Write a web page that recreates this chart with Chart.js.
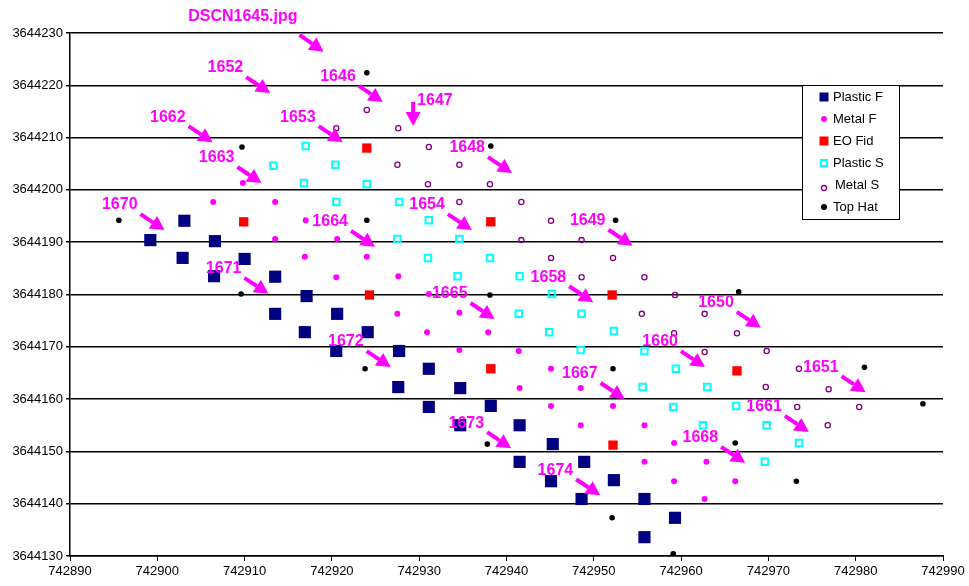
<!DOCTYPE html>
<html>
<head>
<meta charset="utf-8">
<title>Fiducial survey</title>
<script src="https://cdn.jsdelivr.net/npm/chart.js@4.4.1/dist/chart.umd.min.js"></script>
<style>
    html, body { margin: 0; padding: 0; background: #fff; }
    #wrap { width: 969px; height: 586px; }
</style>
</head>
<body>
<div id="wrap"><canvas id="survey" width="969" height="586"></canvas></div>
<script>
// ── Axis ticks ────────────────────────────────────────────
const xTicks = [742890, 742900, 742910, 742920, 742930, 742940, 742950, 742960, 742970, 742980, 742990];
const yTicks = [3644130, 3644140, 3644150, 3644160, 3644170, 3644180, 3644190, 3644200, 3644210, 3644220, 3644230];

// ── Series: [easting, northing] ───────────────────────────
const plasticF = [
    [742899.2, 3644190.4], [742903.1, 3644194.1], [742906.6, 3644190.2], [742902.9, 3644187.0],
    [742910.0, 3644186.8], [742906.5, 3644183.5], [742913.5, 3644183.4], [742917.1, 3644179.7],
    [742913.5, 3644176.3], [742920.6, 3644176.3], [742916.9, 3644172.8], [742924.1, 3644172.8],
    [742920.5, 3644169.2], [742927.7, 3644169.2], [742931.1, 3644165.8], [742927.6, 3644162.3],
    [742934.7, 3644162.1], [742931.1, 3644158.5], [742938.2, 3644158.7], [742934.7, 3644155.0],
    [742941.5, 3644155.0], [742945.3, 3644151.4], [742941.5, 3644148.0], [742948.9, 3644148.0],
    [742945.1, 3644144.3], [742952.3, 3644144.5], [742948.6, 3644140.9], [742955.8, 3644140.9],
    [742959.3, 3644137.3], [742955.8, 3644133.6]
];
const metalF = [
    [742909.8, 3644201.3], [742906.4, 3644197.7], [742913.5, 3644197.7], [742917.0, 3644194.2],
    [742913.5, 3644190.6], [742920.6, 3644190.6], [742916.9, 3644187.2], [742924.0, 3644187.2],
    [742920.5, 3644183.3], [742927.6, 3644183.5], [742931.1, 3644180.1], [742927.5, 3644176.3],
    [742934.6, 3644176.5], [742930.9, 3644172.8], [742937.9, 3644172.8], [742934.6, 3644169.4],
    [742941.4, 3644169.2], [742945.1, 3644165.8], [742941.5, 3644162.1], [742948.5, 3644162.1],
    [742945.1, 3644158.7], [742952.2, 3644158.7], [742948.5, 3644155.0], [742955.8, 3644155.0],
    [742959.2, 3644151.6], [742955.8, 3644148.0], [742962.9, 3644148.0], [742959.2, 3644144.3],
    [742966.2, 3644144.3], [742962.7, 3644140.9]
];
const eoFid = [
    [742924.0, 3644208.0], [742909.9, 3644193.9], [742938.2, 3644193.9], [742924.3, 3644179.9],
    [742952.1, 3644179.9], [742938.2, 3644165.8], [742966.4, 3644165.4], [742952.2, 3644151.2]
];
const plasticS = [
    [742917.0, 3644208.4], [742913.3, 3644204.6], [742920.4, 3644204.8], [742916.8, 3644201.3],
    [742924.0, 3644201.1], [742920.5, 3644197.7], [742927.7, 3644197.7], [742931.1, 3644194.2],
    [742927.5, 3644190.6], [742934.6, 3644190.6], [742931.0, 3644187.0], [742938.1, 3644187.0],
    [742934.4, 3644183.5], [742941.5, 3644183.5], [742945.2, 3644180.1], [742941.4, 3644176.3],
    [742948.6, 3644176.3], [742944.9, 3644172.8], [742952.3, 3644173.0], [742948.5, 3644169.4],
    [742955.8, 3644169.2], [742959.4, 3644165.8], [742955.6, 3644162.3], [742963.0, 3644162.3],
    [742959.1, 3644158.5], [742966.3, 3644158.7], [742962.5, 3644155.0], [742969.8, 3644155.0],
    [742973.5, 3644151.6], [742969.6, 3644148.0]
];
const metalS = [
    [742924.0, 3644215.3], [742920.5, 3644211.8], [742927.6, 3644211.8], [742931.1, 3644208.2],
    [742927.5, 3644204.8], [742934.6, 3644204.8], [742931.0, 3644201.1], [742938.1, 3644201.1],
    [742934.6, 3644197.7], [742941.7, 3644197.7], [742945.1, 3644194.1], [742941.7, 3644190.4],
    [742948.6, 3644190.4], [742945.1, 3644187.0], [742952.2, 3644187.0], [742948.6, 3644183.3],
    [742955.8, 3644183.3], [742959.3, 3644179.9], [742955.5, 3644176.3], [742962.7, 3644176.3],
    [742959.2, 3644172.6], [742966.4, 3644172.6], [742962.7, 3644169.0], [742969.8, 3644169.2],
    [742973.5, 3644165.8], [742969.7, 3644162.3], [742976.9, 3644161.9], [742973.3, 3644158.5],
    [742980.4, 3644158.5], [742976.8, 3644155.0]
];
const topHat = [
    [742924.0, 3644222.4], [742909.7, 3644208.2], [742938.2, 3644208.4], [742895.6, 3644194.2],
    [742924.0, 3644194.2], [742952.5, 3644194.2], [742909.6, 3644180.1], [742938.1, 3644179.9],
    [742966.6, 3644180.5], [742923.8, 3644165.8], [742952.2, 3644165.8], [742981.0, 3644166.1],
    [742937.8, 3644151.4], [742966.2, 3644151.6], [742987.7, 3644159.1], [742973.2, 3644144.3],
    [742952.1, 3644137.3], [742959.1, 3644130.4]
];

// ── Photo callouts: [text, easting, northing, arrow] ──────
const callouts = [
    ['DSCN1645.jpg', 742909.8, 3644233.1, 'far'],
    ['1652', 742907.8, 3644223.3, 'se'], ['1646', 742920.7, 3644221.6, 'se'],
    ['1647', 742931.8, 3644217.0, 'down'],
    ['1662', 742901.2, 3644213.9, 'se'], ['1653', 742916.1, 3644213.9, 'se'],
    ['1648', 742935.5, 3644208.0, 'se'], ['1663', 742906.8, 3644206.1, 'se'],
    ['1670', 742895.7, 3644197.1, 'se'], ['1664', 742919.8, 3644193.9, 'se'],
    ['1654', 742930.9, 3644197.1, 'se'], ['1649', 742949.3, 3644194.1, 'se'],
    ['1671', 742907.6, 3644184.9, 'se'], ['1658', 742944.8, 3644183.3, 'se'],
    ['1665', 742933.5, 3644180.1, 'se'], ['1650', 742964.0, 3644178.4, 'se'],
    ['1672', 742921.6, 3644170.9, 'se'], ['1660', 742957.6, 3644170.9, 'se'],
    ['1651', 742976.0, 3644166.1, 'se'], ['1667', 742948.4, 3644164.8, 'se'],
    ['1661', 742969.5, 3644158.5, 'se'], ['1673', 742935.4, 3644155.4, 'se'],
    ['1668', 742962.2, 3644152.6, 'se'], ['1674', 742945.6, 3644146.4, 'se']
];

const PINK = '#FF00FF';
const FONT = '"Liberation Sans", Arial, sans-serif';

const toPts = arr => arr.map(([x, y]) => ({ x, y }));

function drawArrow(ctx, x1, y1, x2, y2) {
    const a = Math.atan2(y2 - y1, x2 - x1);
    const head = 14, wing = 7.5;
    const bx = x2 - head * Math.cos(a), by = y2 - head * Math.sin(a);
    ctx.lineWidth = 4;
    ctx.beginPath();
    ctx.moveTo(x1, y1);
    ctx.lineTo(bx, by);
    ctx.stroke();
    ctx.beginPath();
    ctx.moveTo(x2, y2);
    ctx.lineTo(bx + wing * Math.sin(a), by - wing * Math.cos(a));
    ctx.lineTo(bx - wing * Math.sin(a), by + wing * Math.cos(a));
    ctx.closePath();
    ctx.fill();
}

// callout labels + arrows, positioned through the scales
const calloutPlugin = {
    id: 'callouts',
    afterDatasetsDraw(chart) {
        const { ctx, scales: { x, y } } = chart;
        ctx.save();
        ctx.font = 'bold 16px ' + FONT;
        ctx.fillStyle = PINK;
        ctx.strokeStyle = PINK;
        ctx.textAlign = 'center';
        ctx.textBaseline = 'middle';
        callouts.forEach(([text, vx, vy, kind]) => {
            const cx = x.getPixelForValue(vx);
            const cy = y.getPixelForValue(vy);
            ctx.fillText(text, cx, cy);
            const half = ctx.measureText(text).width / 2;
            if (kind === 'down') {
                drawArrow(ctx, cx - half - 4, cy + 1, cx - half - 4, cy + 25);
            } else if (kind === 'far') {
                drawArrow(ctx, cx + half + 2, cy + 18, cx + half + 26, cy + 35);
            } else {
                drawArrow(ctx, cx + half + 3, cy + 9, cx + half + 27, cy + 25);
            }
        });
        ctx.restore();
    }
};

// boxed legend inside the plot, like the original
const legendPlugin = {
    id: 'boxLegend',
    afterDraw(chart) {
        const { ctx, chartArea } = chart;
        const left = chartArea.right - 141, top = chartArea.top + 52;
        const w = 97, h = 134;
        ctx.save();
        ctx.fillStyle = '#fff';
        ctx.fillRect(left, top, w, h);
        ctx.strokeStyle = '#000';
        ctx.lineWidth = 1;
        ctx.strokeRect(left + 0.5, top + 0.5, w, h);
        ctx.font = '13px ' + FONT;
        ctx.textBaseline = 'middle';
        ctx.textAlign = 'left';
        chart.data.datasets.forEach((ds, i) => {
            const my = top + 12 + i * 22;
            const mx = left + 22;
            ctx.fillStyle = ds.backgroundColor;
            ctx.strokeStyle = ds.borderColor;
            ctx.lineWidth = ds.borderWidth || 1;
            const s = ds.legendSize;
            if (ds.pointStyle === 'rect') {
                if (ds.hollow) ctx.strokeRect(mx - s / 2, my - s / 2, s, s);
                else ctx.fillRect(mx - s / 2, my - s / 2, s, s);
            } else {
                ctx.beginPath();
                ctx.arc(mx, my + (ds.hollow ? 3 : 0), s / 2, 0, Math.PI * 2);
                if (ds.hollow) ctx.stroke(); else ctx.fill();
            }
            ctx.fillStyle = '#000';
            ctx.fillText(ds.label, left + 31 + (ds.hollow && ds.pointStyle === 'circle' ? 2 : 0), my);
        });
        ctx.restore();
    }
};

const ctx = document.getElementById('survey').getContext('2d');
new Chart(ctx, {
    type: 'scatter',
    data: {
        datasets: [
            { label: 'Plastic F', data: toPts(plasticF), pointStyle: 'rect', pointRadius: 8.6,
              backgroundColor: '#000080', borderColor: '#000080', borderWidth: 0, legendSize: 9 },
            { label: 'Metal F', data: toPts(metalF), pointStyle: 'circle', pointRadius: 3,
              backgroundColor: '#FF00FF', borderColor: '#FF00FF', borderWidth: 0, legendSize: 6 },
            { label: 'EO Fid', data: toPts(eoFid), pointStyle: 'rect', pointRadius: 6.6,
              backgroundColor: '#FF0000', borderColor: '#FF0000', borderWidth: 0, legendSize: 9 },
            { label: 'Plastic S', data: toPts(plasticS), pointStyle: 'rect', pointRadius: 4.6,
              backgroundColor: 'rgba(0,0,0,0)', borderColor: '#00FFFF', borderWidth: 2, legendSize: 6, hollow: true },
            { label: 'Metal S', data: toPts(metalS), pointStyle: 'circle', pointRadius: 2.6,
              backgroundColor: 'rgba(0,0,0,0)', borderColor: '#800080', borderWidth: 1.3, legendSize: 5, hollow: true },
            { label: 'Top Hat', data: toPts(topHat), pointStyle: 'circle', pointRadius: 2.8,
              backgroundColor: '#000000', borderColor: '#000000', borderWidth: 0, legendSize: 6 }
        ]
    },
    options: {
        responsive: false,
        devicePixelRatio: 1,
        animation: false,
        layout: { padding: { top: 33, right: 26, left: 0, bottom: 0 } },
        plugins: {
            legend: { display: false },
            tooltip: { enabled: false }
        },
        scales: {
            x: {
                type: 'linear',
                min: xTicks[0],
                max: xTicks[xTicks.length - 1],
                afterBuildTicks: s => { s.ticks = xTicks.map(v => ({ value: v })); },
                afterFit: s => { s.height = 30; },
                border: { display: true, color: '#000', width: 1.5 },
                grid: { drawOnChartArea: false, drawTicks: true, tickLength: 5, color: '#000', lineWidth: 1 },
                ticks: {
                    color: '#000', padding: 3, maxRotation: 0,
                    font: { family: FONT, size: 13 },
                    callback: v => String(v)
                }
            },
            y: {
                type: 'linear',
                min: yTicks[0],
                max: yTicks[yTicks.length - 1],
                afterBuildTicks: s => { s.ticks = yTicks.map(v => ({ value: v })); },
                afterFit: s => { s.width = 70; },
                border: { display: true, color: '#000', width: 1.5 },
                grid: { drawOnChartArea: true, drawTicks: true, tickLength: 4, color: '#000', lineWidth: 1.5 },
                ticks: {
                    color: '#000', padding: 3,
                    font: { family: FONT, size: 13 },
                    callback: v => String(v)
                }
            }
        }
    },
    plugins: [calloutPlugin, legendPlugin]
});
</script>
</body>
</html>
